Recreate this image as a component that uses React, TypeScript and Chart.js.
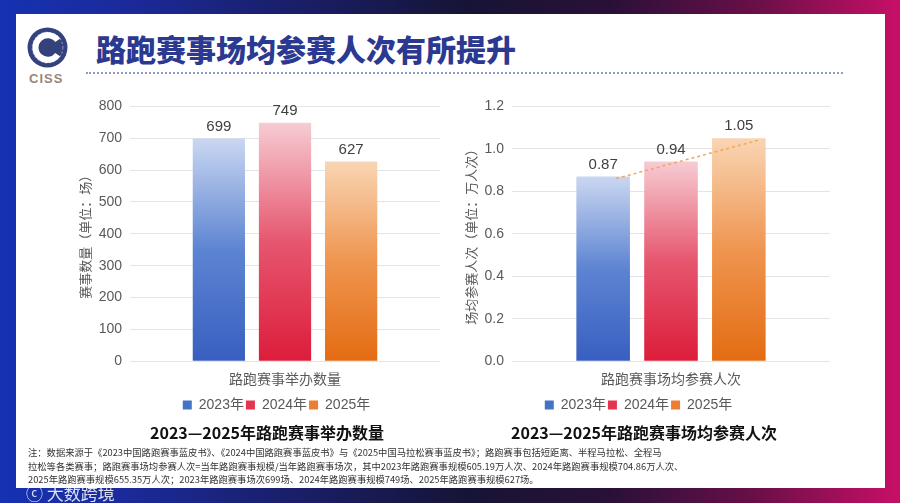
import { useEffect, useRef } from "react";
import { Chart, registerables } from "chart.js";

Chart.register(...registerables);

const years = ["2023年", "2024年", "2025年"];

const countCategory = ["路跑赛事举办数量"];
const raceCounts = [699, 749, 627];
const countTicks = [0, 100, 200, 300, 400, 500, 600, 700, 800];

const avgCategory = ["路跑赛事场均参赛人次"];
const avgParticipants = [0.87, 0.94, 1.05];
const avgTicks = [0, 0.2, 0.4, 0.6, 0.8, 1.0, 1.2];
// dashed trend line ends
const avgTrend = [0.86, 1.04];

const legendColors = ["#4472c4", "#e5344e", "#ed7d31"];
const barTops = ["#cad7f1", "#f6ccd3", "#f9d5b3"];
const barMids = ["#5d84d2", "#e6566e", "#ef9550"];
const barBottoms = ["#385fc0", "#dc1d3b", "#e46c12"];

const FONT = '"Liberation Sans", "Noto Sans CJK SC", sans-serif';
const CJK = '"Noto Sans CJK SC", "Liberation Sans", sans-serif';

function barGradient(i: number) {
  return (ctx: any) => {
    const chart = ctx.chart;
    const y = chart.scales?.y;
    if (!chart.chartArea || !y || ctx.raw == null) return legendColors[i];
    const top = y.getPixelForValue(ctx.raw);
    const bottom = y.getPixelForValue(0);
    const g = chart.ctx.createLinearGradient(0, top, 0, bottom);
    g.addColorStop(0, barTops[i]);
    g.addColorStop(0.5, barMids[i]);
    g.addColorStop(1, barBottoms[i]);
    return g;
  };
}

const valueLabels = {
  id: "valueLabels",
  afterDatasetsDraw(chart: any, _args: any, opts: any) {
    const { ctx } = chart;
    ctx.save();
    ctx.font = `15px ${FONT}`;
    ctx.fillStyle = "#404040";
    ctx.textAlign = "center";
    ctx.textBaseline = "middle";
    chart.data.datasets.forEach((ds: any, di: number) => {
      chart.getDatasetMeta(di).data.forEach((bar: any, idx: number) => {
        const v = ds.data[idx];
        ctx.fillText(opts.digits ? v.toFixed(opts.digits) : String(v), bar.x, bar.y - 12);
      });
    });
    ctx.restore();
  },
};

const trendLine = {
  id: "trendLine",
  afterDatasetsDraw(chart: any, _args: any, opts: any) {
    if (!opts.values) return;
    const { ctx } = chart;
    const y = chart.scales.y;
    const first = chart.getDatasetMeta(0).data[0];
    const last = chart.getDatasetMeta(chart.data.datasets.length - 1).data[0];
    ctx.save();
    ctx.strokeStyle = "#f2a55c";
    ctx.lineWidth = 1.5;
    ctx.setLineDash([3, 3]);
    ctx.beginPath();
    ctx.moveTo(first.x + 13, y.getPixelForValue(opts.values[0]));
    ctx.lineTo(last.x + 19, y.getPixelForValue(opts.values[1]));
    ctx.stroke();
    ctx.restore();
  },
};

// nudge the legend sideways, the way the original sits
const legendShift = {
  id: "legendShift",
  afterLayout(chart: any, _args: any, opts: any) {
    if (!chart.legend || !opts.dx) return;
    chart.legend.left += opts.dx;
    chart.legend.right += opts.dx;
  },
};

interface PanelProps {
  labels: string[];
  values: number[];
  ticks: number[];
  yTitle: string;
  digits: number;
  padLeft: number;
  axisWidth: number;
  legendDx: number;
  trend?: number[];
}

function BarPanel({ labels, values, ticks, yTitle, digits, padLeft, axisWidth, legendDx, trend }: PanelProps) {
  const canvasRef = useRef<HTMLCanvasElement>(null);

  useEffect(() => {
    if (!canvasRef.current) return;
    const chart = new Chart(canvasRef.current, {
      type: "bar",
      data: {
        labels,
        datasets: years.map((yr, i) => ({
          label: yr,
          data: [values[i]],
          backgroundColor: barGradient(i),
          borderWidth: 0,
          categoryPercentage: 0.64,
          barPercentage: 0.79,
        })),
      },
      options: {
        responsive: true,
        maintainAspectRatio: false,
        animation: false,
        layout: { padding: { left: padLeft, top: 15, right: 10, bottom: 0 } },
        plugins: {
          tooltip: { enabled: false },
          legend: {
            position: "bottom",
            labels: {
              font: { family: FONT, size: 14 },
              color: "#595959",
              boxWidth: 9,
              boxHeight: 9,
              padding: 2,
              generateLabels: () =>
                years.map((yr, i) => ({
                  text: yr,
                  fillStyle: legendColors[i],
                  strokeStyle: legendColors[i],
                  lineWidth: 0,
                  fontColor: "#595959",
                  datasetIndex: i,
                  hidden: false,
                })),
            },
          },
          valueLabels: { digits },
          trendLine: { values: trend },
          legendShift: { dx: legendDx },
        } as any,
        scales: {
          x: {
            grid: { display: false, drawTicks: false },
            border: { display: false },
            ticks: { font: { family: CJK, size: 14 }, color: "#595959", padding: 9 },
          },
          y: {
            min: ticks[0],
            max: ticks[ticks.length - 1],
            grid: { color: "#e4e4e4", drawTicks: false },
            border: { display: false },
            afterFit: (scale: any) => {
              scale.width = axisWidth;
            },
            ticks: {
              stepSize: ticks[1] - ticks[0],
              font: { family: FONT, size: 14 },
              color: "#595959",
              padding: 8,
              callback: (v: any) => (digits ? Number(v).toFixed(1) : String(v)),
            },
            title: {
              display: true,
              text: yTitle,
              font: { family: CJK, size: 13 },
              color: "#595959",
            },
          },
        },
      },
      plugins: [valueLabels, trendLine, legendShift],
    });
    return () => chart.destroy();
  }, [labels, values, ticks, yTitle, digits, padLeft, axisWidth, legendDx, trend]);

  return <canvas ref={canvasRef} />;
}

const notes = [
  "注：数据来源于《2023中国路跑赛事蓝皮书》、《2024中国路跑赛事蓝皮书》与《2025中国马拉松赛事蓝皮书》；路跑赛事包括短距离、半程马拉松、全程马",
  "拉松等各类赛事；路跑赛事场均参赛人次=当年路跑赛事规模/当年路跑赛事场次，其中2023年路跑赛事规模605.19万人次、2024年路跑赛事规模704.86万人次、",
  "2025年路跑赛事规模655.35万人次；2023年路跑赛事场次699场、2024年路跑赛事规模749场、2025年路跑赛事规模627场。",
];

export default function App() {
  return (
    <div
      style={{
        position: "fixed",
        left: 0,
        top: 0,
        width: 900,
        height: 503,
        overflow: "hidden",
        background:
          "linear-gradient(90deg, #1532b2 0%, #1b2a9a 14%, #1a1f6a 32%, #161436 52%, #2a1038 68%, #6a0f48 84%, #c80f68 100%)",
        fontFamily: CJK,
      }}
    >
      <div style={{ position: "absolute", left: 16, top: 14, width: 869, height: 474, background: "#fff" }} />

      <svg style={{ position: "absolute", left: 27, top: 27 }} width="41" height="41" viewBox="0 0 40 40">
        <circle cx="20" cy="20" r="19.5" fill="#34427c" />
        <circle cx="20" cy="20" r="15" fill="none" stroke="#8a96c4" strokeWidth="1" strokeDasharray="2 2" />
        <path d="M30 13 A12 12 0 1 0 30 27" fill="none" stroke="#fff" strokeWidth="6" />
      </svg>
      <div style={{ position: "absolute", left: 29, top: 71, fontFamily: FONT, fontSize: 13, fontWeight: 700, color: "#9c8577", letterSpacing: 1 }}>
        CISS
      </div>

      <div style={{ position: "absolute", left: 96, top: 30, fontSize: 30, fontWeight: 900, color: "#2b3990", whiteSpace: "nowrap", lineHeight: "36px" }}>
        路跑赛事场均参赛人次有所提升
      </div>
      <div style={{ position: "absolute", left: 86, top: 72, width: 757, borderTop: "2px dotted #8a9acb" }} />

      <div style={{ position: "absolute", left: 60, top: 90, width: 390, height: 332 }}>
        <BarPanel
          labels={countCategory}
          values={raceCounts}
          ticks={countTicks}
          yTitle="赛事数量（单位：场）"
          digits={0}
          padLeft={13}
          axisWidth={57}
          legendDx={20}
        />
      </div>
      <div style={{ position: "absolute", left: 450, top: 90, width: 390, height: 332 }}>
        <BarPanel
          labels={avgCategory}
          values={avgParticipants}
          ticks={avgTicks}
          yTitle="场均参赛人次（单位：万人次）"
          digits={2}
          padLeft={9}
          axisWidth={53}
          legendDx={-6}
          trend={avgTrend}
        />
      </div>

      <div style={{ position: "absolute", left: 150, top: 420, fontSize: 16, fontWeight: 700, color: "#111", whiteSpace: "nowrap" }}>
        2023—2025年路跑赛事举办数量
      </div>
      <div style={{ position: "absolute", left: 511, top: 420, fontSize: 16, fontWeight: 700, color: "#111", whiteSpace: "nowrap" }}>
        2023—2025年路跑赛事场均参赛人次
      </div>

      <div style={{ position: "absolute", left: 28, top: 446, fontSize: 9.3, lineHeight: "13.5px", color: "#333", whiteSpace: "nowrap" }}>
        {notes.map((n) => (
          <div key={n}>{n}</div>
        ))}
      </div>

      <div style={{ position: "absolute", left: 26, top: 480, fontSize: 17, color: "rgba(255,255,255,0.85)", whiteSpace: "nowrap" }}>
        ⓒ 大数跨境
      </div>
    </div>
  );
}
